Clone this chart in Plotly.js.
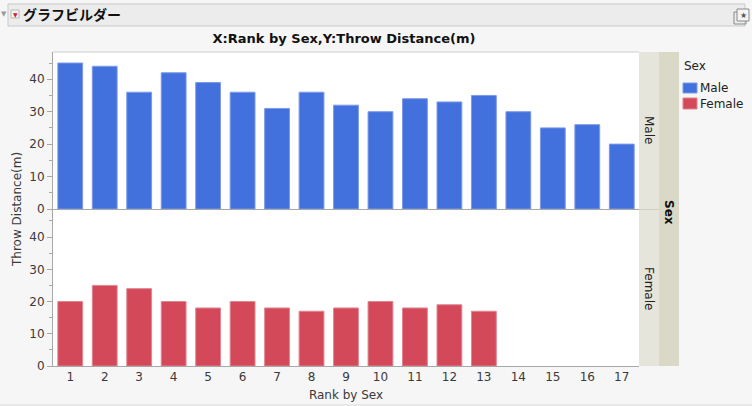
<!DOCTYPE html>
<html>
<head>
<meta charset="utf-8">
<script src="https://cdn.plot.ly/plotly-3.0.1.min.js"></script>
<style>html,body{margin:0;padding:0;background:#f6f6f6;}#chart{width:752px;height:406px;}</style>
</head>
<body>
<div id="chart"></div>
<script>
// ---- data ----
const rankCategories = [1,2,3,4,5,6,7,8,9,10,11,12,13,14,15,16,17];
const maleValues = [45,44,36,42,39,36,31,36,32,30,34,33,35,30,25,26,20];
const femaleRanks = [1,2,3,4,5,6,7,8,9,10,11,12,13];
const femaleValues = [20,25,24,20,18,20,18,17,18,20,18,19,17];
const groupLabels = ['Male','Female'];
const chartTitle = 'X:Rank by Sex,Y:Throw Distance(m)';
const xTitle = 'Rank by Sex';
const yTitle = 'Throw Distance(m)';
const headerText = 'グラフビルダー';

// ---- helpers (pixel -> paper) ----
const W = 752, H = 406;
const px = x => x / W;
const py = y => 1 - y / H;

const FONT = 'DejaVu Sans, Verdana, sans-serif';
const MALE = '#4270dd';
const FEMALE = '#d44959';
const AXC = '#a8a8a8';
const TXT = '#3a3a3a';

const traces = [
  {type:'bar', x: rankCategories, y: maleValues, name: groupLabels[0], xaxis:'x2', yaxis:'y2',
   marker:{color: MALE, line:{color:'#7d9ae8', width:1}}, showlegend:false, hoverinfo:'x+y'},
  {type:'bar', x: femaleRanks, y: femaleValues, name: groupLabels[1], xaxis:'x', yaxis:'y',
   marker:{color: FEMALE, line:{color:'#e08591', width:1}}, showlegend:false, hoverinfo:'x+y'}
];

const yCommon = {
  range:[0,48.4], dtick:10, tick0:0, ticks:'outside', ticklen:5, tickcolor:AXC,
  showline:true, linecolor:AXC, linewidth:1, showgrid:false, zeroline:false,
  tickfont:{family:FONT, size:12, color:TXT},
  minor:{dtick:5, ticks:'outside', ticklen:3, tickcolor:AXC, showgrid:false},
  fixedrange:true
};

const layout = {
  width: W, height: H,
  margin:{l:0,r:0,t:0,b:0},
  paper_bgcolor:'#f6f6f6',
  plot_bgcolor:'#ffffff',
  bargap:0.28,
  showlegend:false,
  title:{text:'<b>'+chartTitle+'</b>', x:px(344), xanchor:'center', y:py(38), yanchor:'middle',
         font:{family:FONT, size:13, color:'#111111'}},
  xaxis:{domain:[px(53),px(639)], anchor:'y', range:[0.5,17.5], tickmode:'array', tickvals:rankCategories,
         ticktext:rankCategories.map(String), ticks:'', showline:true, linecolor:AXC, linewidth:1,
         showgrid:false, zeroline:false, tickfont:{family:FONT, size:12, color:TXT},
         title:{text:xTitle, font:{family:FONT, size:12, color:TXT}, standoff:7}},
  xaxis2:{domain:[px(53),px(639)], anchor:'y2', range:[0.5,17.5], matches:'x', showticklabels:false, ticks:'',
          showline:true, linecolor:AXC, linewidth:1, showgrid:false, zeroline:false},
  yaxis:Object.assign({}, yCommon, {domain:[py(366), py(210)], anchor:'x'}),
  yaxis2:Object.assign({}, yCommon, {domain:[py(209), py(52)], anchor:'x2', range:[0,48.4]}),
  shapes:[
    // header bar
    {type:'rect', xref:'paper', yref:'paper', x0:px(8), x1:px(745), y0:py(26), y1:py(4),
     fillcolor:'#ececec', line:{color:'#c9c9c9', width:1}, layer:'below'},
    // red button
    {type:'rect', xref:'paper', yref:'paper', x0:px(11), x1:px(19), y0:py(18), y1:py(10),
     fillcolor:'#f4f4f4', line:{color:'#b8b8b8', width:1}},
    // right icon
    {type:'rect', xref:'paper', yref:'paper', x0:px(734), x1:px(746), y0:py(24), y1:py(12),
     fillcolor:'rgba(0,0,0,0)', line:{color:'#8a8a8a', width:1}},
    {type:'rect', xref:'paper', yref:'paper', x0:px(737), x1:px(749), y0:py(21), y1:py(9),
     fillcolor:'#f4f4f4', line:{color:'#8a8a8a', width:1}},
    // plot top border
    {type:'line', xref:'paper', yref:'paper', x0:px(53), x1:px(639), y0:py(52), y1:py(52),
     line:{color:'#cfcfcf', width:1}},
    // inner strip
    {type:'rect', xref:'paper', yref:'paper', x0:px(639), x1:px(659), y0:py(366), y1:py(52),
     fillcolor:'#e6e5dc', line:{width:0}, layer:'below'},
    {type:'line', xref:'paper', yref:'paper', x0:px(639), x1:px(659), y0:py(209.5), y1:py(209.5),
     line:{color:'#cfcec4', width:1}},
    // outer strip
    {type:'rect', xref:'paper', yref:'paper', x0:px(659), x1:px(679), y0:py(366), y1:py(52),
     fillcolor:'#dad9c8', line:{width:0}, layer:'below'},
    // legend swatches
    {type:'rect', xref:'paper', yref:'paper', x0:px(683), x1:px(697), y0:py(93), y1:py(83),
     fillcolor:MALE, line:{color:'#7d9ae8', width:1}},
    {type:'rect', xref:'paper', yref:'paper', x0:px(683), x1:px(697), y0:py(109), y1:py(98),
     fillcolor:FEMALE, line:{color:'#e08591', width:1}},
    // bottom line
    {type:'line', xref:'paper', yref:'paper', x0:0, x1:1, y0:py(405), y1:py(405),
     line:{color:'#dcdcdc', width:1}}
  ],
  annotations:[
    {text:yTitle, xref:'paper', yref:'paper', x:px(17), y:py(210), showarrow:false, textangle:-90,
     xanchor:'center', yanchor:'middle', font:{family:FONT, size:12, color:TXT}},
    {text:'▼', xref:'paper', yref:'paper', x:px(4), y:py(14), showarrow:false, xanchor:'center', yanchor:'middle',
     font:{family:FONT, size:7, color:'#9a9a9a'}},
    {text:'▼', xref:'paper', yref:'paper', x:px(15), y:py(14.5), showarrow:false, xanchor:'center', yanchor:'middle',
     font:{family:FONT, size:6, color:'#d0202a'}},
    {text:'<b>'+headerText+'</b>', xref:'paper', yref:'paper', x:px(21), y:py(14.5), showarrow:false,
     xanchor:'left', yanchor:'middle', font:{family:'Noto Sans CJK JP, sans-serif', size:14, color:'#111111'}},
    {text:'★', xref:'paper', yref:'paper', x:px(743), y:py(15), showarrow:false, xanchor:'center', yanchor:'middle',
     font:{family:FONT, size:8, color:'#555555'}},
    {text:groupLabels[0], xref:'paper', yref:'paper', x:px(649), y:py(130), showarrow:false, textangle:90,
     xanchor:'center', yanchor:'middle', font:{family:FONT, size:12, color:'#222222'}},
    {text:groupLabels[1], xref:'paper', yref:'paper', x:px(649), y:py(288), showarrow:false, textangle:90,
     xanchor:'center', yanchor:'middle', font:{family:FONT, size:12, color:'#222222'}},
    {text:'<b>Sex</b>', xref:'paper', yref:'paper', x:px(669), y:py(212), showarrow:false, textangle:90,
     xanchor:'center', yanchor:'middle', font:{family:FONT, size:12, color:'#111111'}},
    {text:'Sex', xref:'paper', yref:'paper', x:px(682), y:py(66), showarrow:false,
     xanchor:'left', yanchor:'middle', font:{family:FONT, size:12, color:'#222222'}},
    {text:groupLabels[0], xref:'paper', yref:'paper', x:px(698), y:py(88), showarrow:false,
     xanchor:'left', yanchor:'middle', font:{family:FONT, size:12, color:'#222222'}},
    {text:groupLabels[1], xref:'paper', yref:'paper', x:px(698), y:py(103.5), showarrow:false,
     xanchor:'left', yanchor:'middle', font:{family:FONT, size:12, color:'#222222'}}
  ]
};

Plotly.newPlot('chart', traces, layout, {displayModeBar:false, staticPlot:true});
</script>
</body>
</html>
